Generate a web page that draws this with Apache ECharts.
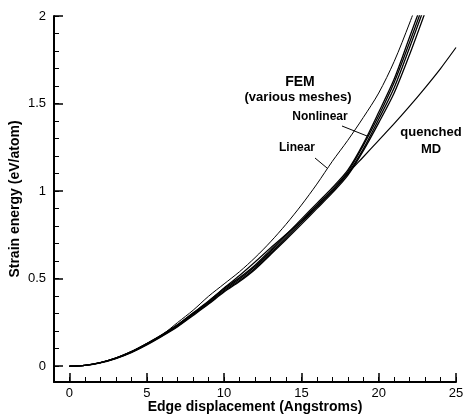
<!DOCTYPE html>
<html>
<head>
<meta charset="utf-8">
<script src="https://cdn.jsdelivr.net/npm/echarts@6/dist/echarts.min.js"></script>
<style>html,body{margin:0;padding:0;background:#fff}#c{width:464px;height:419px}</style>
</head>
<body>
<div id="c"></div>
<script>
// Edge displacement (Angstroms) sample positions
var xFEM = [0,1,2,3,4,5,6,7,8,9,10,11,12,13,14,15,16,17,18,19,20,21,22,23];
var xMD  = [0,1,2,3,4,5,6,7,8,9,10,11,12,13,14,15,16,17,18,19,20,21,22,23,24,25];
// FEM nonlinear, various meshes (eV/atom)
var nonlinear1 = [0,0.005,0.019,0.044,0.078,0.122,0.172,0.226,0.29,0.355,0.424,0.484,0.553,0.637,0.722,0.81,0.9,0.99,1.09,1.23,1.39,1.56,1.78,2.02];
var nonlinear2 = [0,0.005,0.02,0.045,0.08,0.125,0.175,0.23,0.295,0.36,0.43,0.49,0.56,0.645,0.73,0.82,0.91,1.0,1.1,1.24,1.41,1.59,1.82,2.06];
var nonlinear3 = [0,0.005,0.02,0.046,0.081,0.127,0.178,0.234,0.3,0.366,0.437,0.498,0.569,0.654,0.74,0.83,0.92,1.01,1.11,1.26,1.43,1.62,1.85,2.09];
var nonlinear4 = [0,0.005,0.021,0.047,0.083,0.13,0.181,0.238,0.305,0.372,0.444,0.506,0.577,0.663,0.75,0.84,0.93,1.02,1.12,1.27,1.45,1.64,1.88,2.12];
// FEM linear
var linearFEM = [0,0.005,0.021,0.048,0.085,0.13,0.18,0.25,0.32,0.4,0.47,0.54,0.62,0.71,0.81,0.92,1.04,1.17,1.29,1.42,1.56,1.74,1.96,2.2];
// quenched MD
var quenchedMD = [0,0.005,0.02,0.046,0.082,0.128,0.18,0.237,0.302,0.37,0.447,0.518,0.595,0.675,0.752,0.83,0.91,1.0,1.1,1.195,1.29,1.385,1.485,1.59,1.7,1.82];
// tick labels
var xTickLabels = [0,5,10,15,20,25];
var xMinorTicks = [-1,0,1,2,3,4,5,6,7,8,9,10,11,12,13,14,15,16,17,18,19,20,21,22,23,24,25];
var yTickLabels = [0,0.5,1,1.5,2];
var yMinorTicks = [0,0.1,0.2,0.3,0.4,0.5,0.6,0.7,0.8,0.9,1,1.1,1.2,1.3,1.4,1.5,1.6,1.7,1.8,1.9,2];

function pairs(xs, ys){ return ys.map(function(v,i){return [xs[i], v];}); }

var FONT = 'Liberation Sans, Arial, Helvetica, sans-serif';
var chart = echarts.init(document.getElementById('c'), null, {renderer:'canvas'});

function curve(name, xs, ys, w){
  return {name:name, type:'line', data:pairs(xs, ys), showSymbol:false, symbol:'none',
    smooth:0.3, clip:true, lineStyle:{color:'#000', width:w}, z:3, animation:false};
}

chart.setOption({
  animation:false,
  backgroundColor:'#fff',
  grid:{left:54, right:8, top:16, bottom:37, containLabel:false, outerBoundsMode:'none'},
  xAxis:[{
    type:'value', min:-1, max:25, position:'bottom',
    axisLine:{show:true, onZero:false, lineStyle:{color:'#000', width:2}},
    axisTick:{show:true, inside:true, length:9, customValues:xTickLabels, lineStyle:{color:'#000', width:1.5}},
    axisLabel:{show:true, customValues:xTickLabels, color:'#000', fontSize:13, fontFamily:FONT, margin:5},
    splitLine:{show:false},
    name:'Edge displacement (Angstroms)', nameLocation:'middle', nameGap:18, nameMoveOverlap:false,
    nameTextStyle:{color:'#000', fontSize:14, fontWeight:'bold', fontFamily:FONT}
  },{
    type:'value', min:-1, max:25, position:'bottom', offset:0,
    axisLine:{show:false, onZero:false},
    axisTick:{show:true, inside:true, length:5, customValues:xMinorTicks, lineStyle:{color:'#000', width:1}},
    axisLabel:{show:false}, splitLine:{show:false}
  }],
  yAxis:[{
    type:'value', min:-0.09, max:2, position:'left',
    axisLine:{show:true, onZero:false, lineStyle:{color:'#000', width:2}},
    axisTick:{show:true, inside:true, length:9, customValues:yTickLabels, lineStyle:{color:'#000', width:1.5}},
    axisLabel:{show:true, customValues:yTickLabels, color:'#000', fontSize:13, fontFamily:FONT, margin:8,
      formatter:function(v){return String(v);}},
    splitLine:{show:false},
    name:'Strain energy (eV/atom)', nameLocation:'middle', nameGap:32, nameRotate:90, nameMoveOverlap:false,
    nameTextStyle:{color:'#000', fontSize:14, fontWeight:'bold', fontFamily:FONT}
  },{
    type:'value', min:-0.09, max:2, position:'left', offset:0,
    axisLine:{show:false, onZero:false},
    axisTick:{show:true, inside:true, length:5, customValues:yMinorTicks, lineStyle:{color:'#000', width:1}},
    axisLabel:{show:false}, splitLine:{show:false}
  }],
  series:[
    curve('Linear', xFEM, linearFEM, 1),
    curve('Nonlinear mesh 1', xFEM, nonlinear1, 1.3),
    curve('Nonlinear mesh 2', xFEM, nonlinear2, 1.3),
    curve('Nonlinear mesh 3', xFEM, nonlinear3, 1.3),
    curve('Nonlinear mesh 4', xFEM, nonlinear4, 1.3),
    curve('quenched MD', xMD, quenchedMD, 1.2)
  ],
  graphic:[
    {type:'text', x:300, y:82, style:{text:'FEM', fill:'#000', font:'bold 14px '+FONT, align:'center', verticalAlign:'middle'}},
    {type:'text', x:298, y:97, style:{text:'(various meshes)', fill:'#000', font:'bold 13px '+FONT, align:'center', verticalAlign:'middle'}},
    {type:'text', x:320, y:117, style:{text:'Nonlinear', fill:'#000', font:'bold 12px '+FONT, align:'center', verticalAlign:'middle'}},
    {type:'line', shape:{x1:342, y1:126, x2:367, y2:136}, style:{stroke:'#000', lineWidth:1}},
    {type:'text', x:297, y:148, style:{text:'Linear', fill:'#000', font:'bold 12px '+FONT, align:'center', verticalAlign:'middle'}},
    {type:'line', shape:{x1:315, y1:158, x2:327, y2:168}, style:{stroke:'#000', lineWidth:1}},
    {type:'text', x:431, y:132, style:{text:'quenched', fill:'#000', font:'bold 13px '+FONT, align:'center', verticalAlign:'middle'}},
    {type:'text', x:431, y:149, style:{text:'MD', fill:'#000', font:'bold 13px '+FONT, align:'center', verticalAlign:'middle'}}
  ]
});
</script>
</body>
</html>
